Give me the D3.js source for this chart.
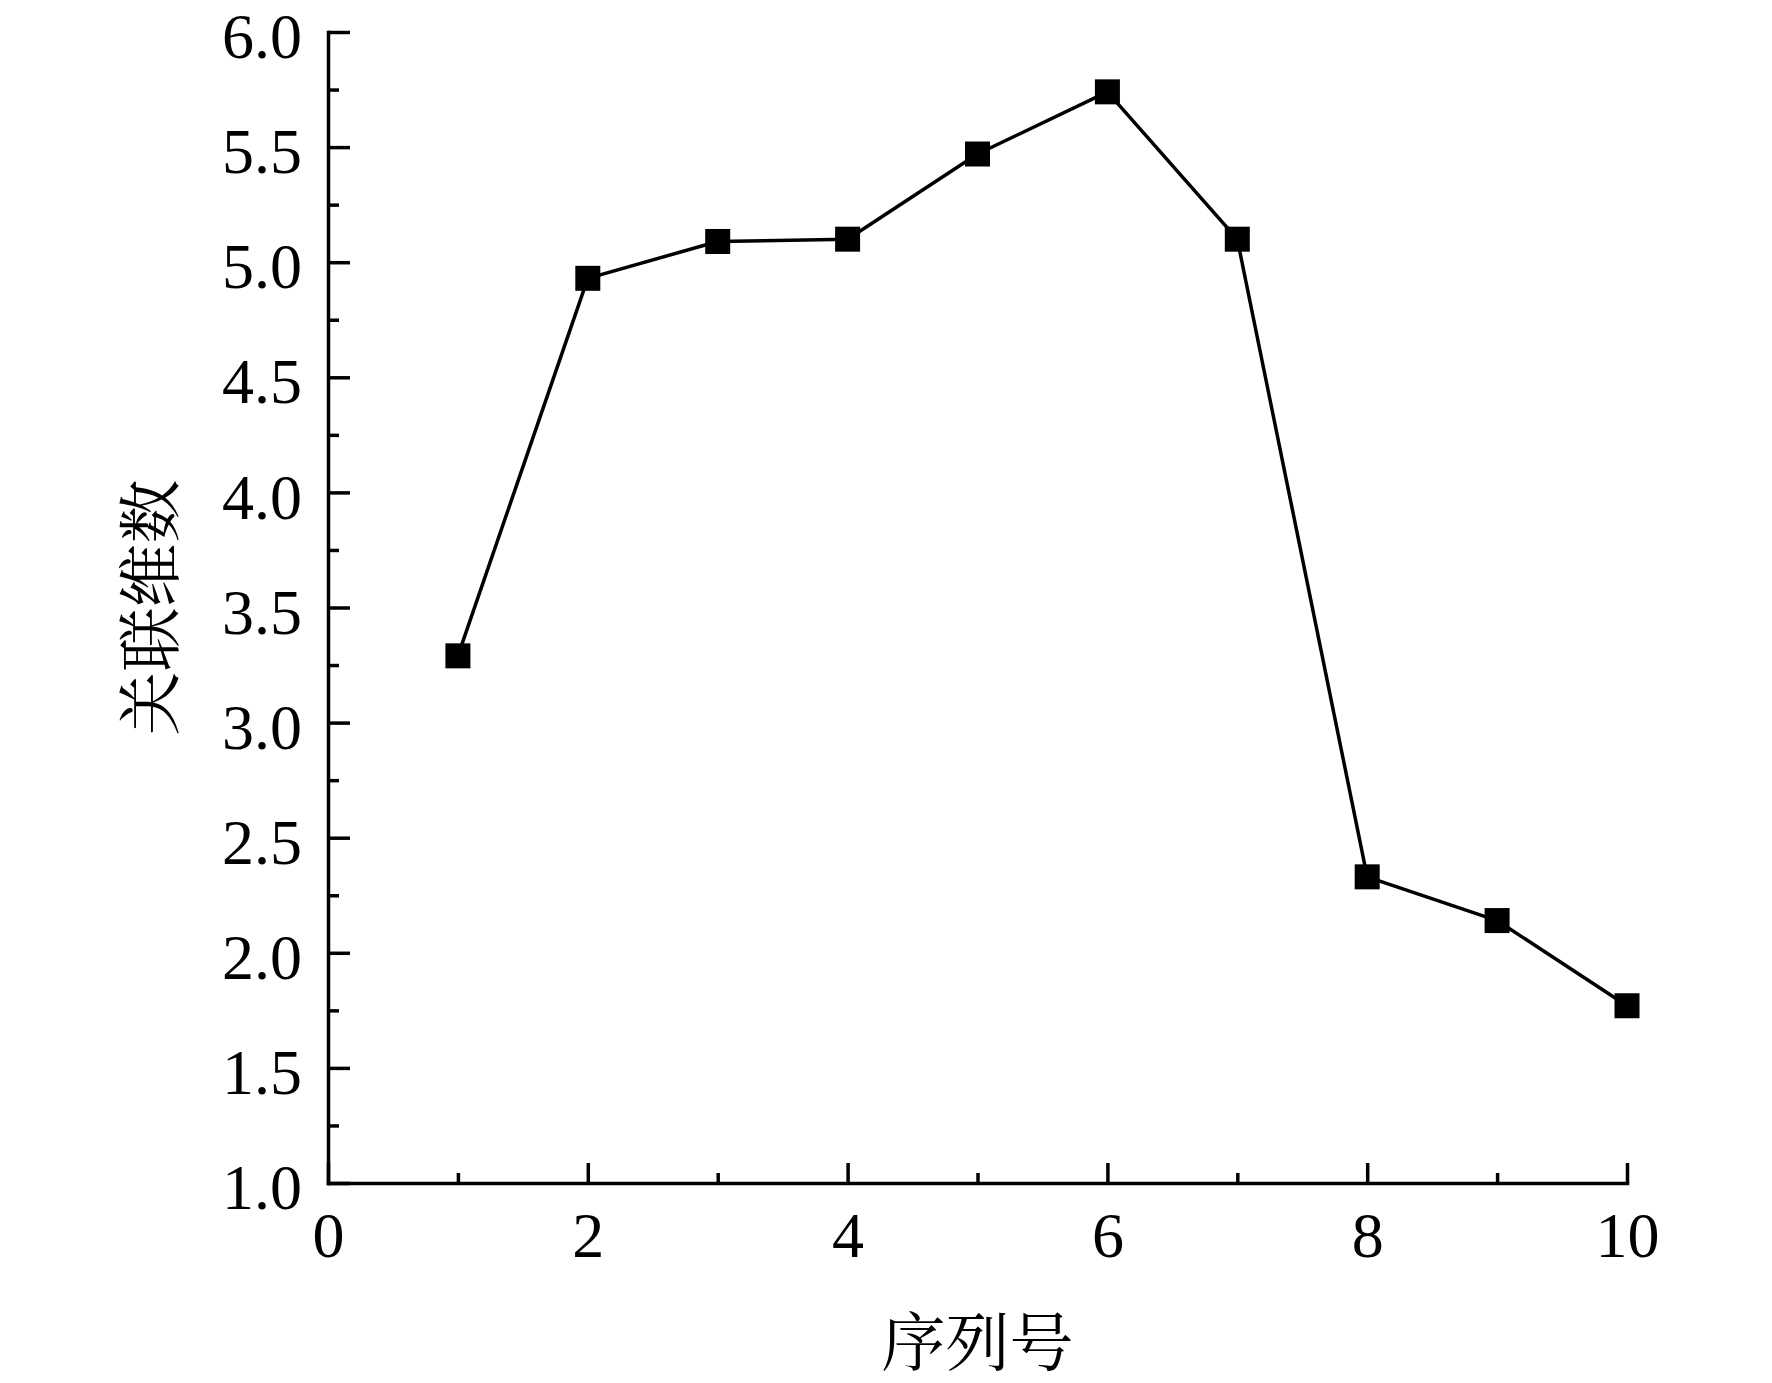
<!DOCTYPE html>
<html>
<head>
<meta charset="utf-8">
<script src="https://cdn.jsdelivr.net/npm/d3@7"></script>
<style>
  html, body { margin: 0; padding: 0; background: #fff; }
  svg { display: block; }
  .tick text { font-family: "Liberation Serif", "Times New Roman", serif; }
  .cjk { font-family: "Noto Serif CJK SC", "Noto Sans CJK SC", serif; }
</style>
</head>
<body>
<svg id="svg"></svg>
<script>
// series values
const xValues = [1, 2, 3, 4, 5, 6, 7, 8, 9, 10];
const yValues = [3.29, 4.93, 5.09, 5.10, 5.47, 5.74, 5.10, 2.33, 2.14, 1.77];

// tick labels
const xMajorTicks = [0, 2, 4, 6, 8, 10];
const xMinorTicks = [1, 3, 5, 7, 9];
const yMajorTicks = [1.0, 1.5, 2.0, 2.5, 3.0, 3.5, 4.0, 4.5, 5.0, 5.5, 6.0];
const yMinorTicks = [1.25, 1.75, 2.25, 2.75, 3.25, 3.75, 4.25, 4.75, 5.25, 5.75];

const xTitle = "序列号";
const yTitle = "关联维数";

const width = 1772,
    height = 1383;
const margin = {top: 32, right: 145, bottom: 200, left: 328};

const svg = d3.select("#svg")
    .attr("width", width)
    .attr("height", height)
    .attr("viewBox", [0, 0, width, height]);

const x = d3.scaleLinear()
    .domain([0, 10])
    .range([margin.left, width - margin.right]);

const y = d3.scaleLinear()
    .domain([1, 6])
    .range([height - margin.bottom, margin.top]);

function styleAxis(g) {
    g.select(".domain")
        .attr("stroke", "#000")
        .attr("stroke-width", 3.5)
        .attr("stroke-linecap", "square");
    g.selectAll(".tick line")
        .attr("stroke", "#000")
        .attr("stroke-width", 3.5);
    g.selectAll(".tick text")
        .attr("fill", "#000")
        .attr("font-size", 64);
}

// minor ticks first so the main axis lines sit on top
svg.append("g")
    .attr("transform", `translate(0,${y(1)})`)
    .call(d3.axisBottom(x).tickValues(xMinorTicks).tickSize(-10).tickSizeOuter(0).tickFormat(""))
    .call(styleAxis)
    .call(g => g.select(".domain").remove());

svg.append("g")
    .attr("transform", `translate(${x(0)},0)`)
    .call(d3.axisLeft(y).tickValues(yMinorTicks).tickSize(-11).tickSizeOuter(0).tickFormat(""))
    .call(styleAxis)
    .call(g => g.select(".domain").remove());

svg.append("g")
    .attr("transform", `translate(0,${y(1)})`)
    .call(d3.axisBottom(x).tickValues(xMajorTicks).tickSize(-20).tickSizeOuter(0).tickPadding(29).tickFormat(d3.format("d")))
    .call(styleAxis);

svg.append("g")
    .attr("transform", `translate(${x(0)},0)`)
    .call(d3.axisLeft(y).tickValues(yMajorTicks).tickSize(-22).tickSizeOuter(0).tickPadding(26).tickFormat(d3.format(".1f")))
    .call(styleAxis)
    .call(g => g.selectAll(".tick text").attr("dy", "0.4em"));

const data = xValues.map((v, i) => ({x: v, y: yValues[i]}));

const line = d3.line()
    .x(d => x(d.x))
    .y(d => y(d.y));

svg.append("path")
    .datum(data)
    .attr("fill", "none")
    .attr("stroke", "#000")
    .attr("stroke-width", 3.5)
    .attr("stroke-linejoin", "round")
    .attr("d", line);

const size = 25;
svg.append("g")
    .selectAll("rect")
    .data(data)
    .join("rect")
    .attr("x", d => x(d.x) - size / 2)
    .attr("y", d => y(d.y) - size / 2)
    .attr("width", size)
    .attr("height", size)
    .attr("fill", "#000");

svg.append("text")
    .attr("class", "cjk")
    .attr("x", (x(0) + x(10)) / 2)
    .attr("y", 1337)
    .attr("text-anchor", "middle")
    .attr("dominant-baseline", "central")
    .attr("font-size", 64)
    .text(xTitle);

svg.append("text")
    .attr("class", "cjk")
    .attr("transform", `translate(145,${(y(1) + y(6)) / 2}) rotate(-90)`)
    .attr("text-anchor", "middle")
    .attr("dominant-baseline", "central")
    .attr("font-size", 64)
    .text(yTitle);
</script>
</body>
</html>
